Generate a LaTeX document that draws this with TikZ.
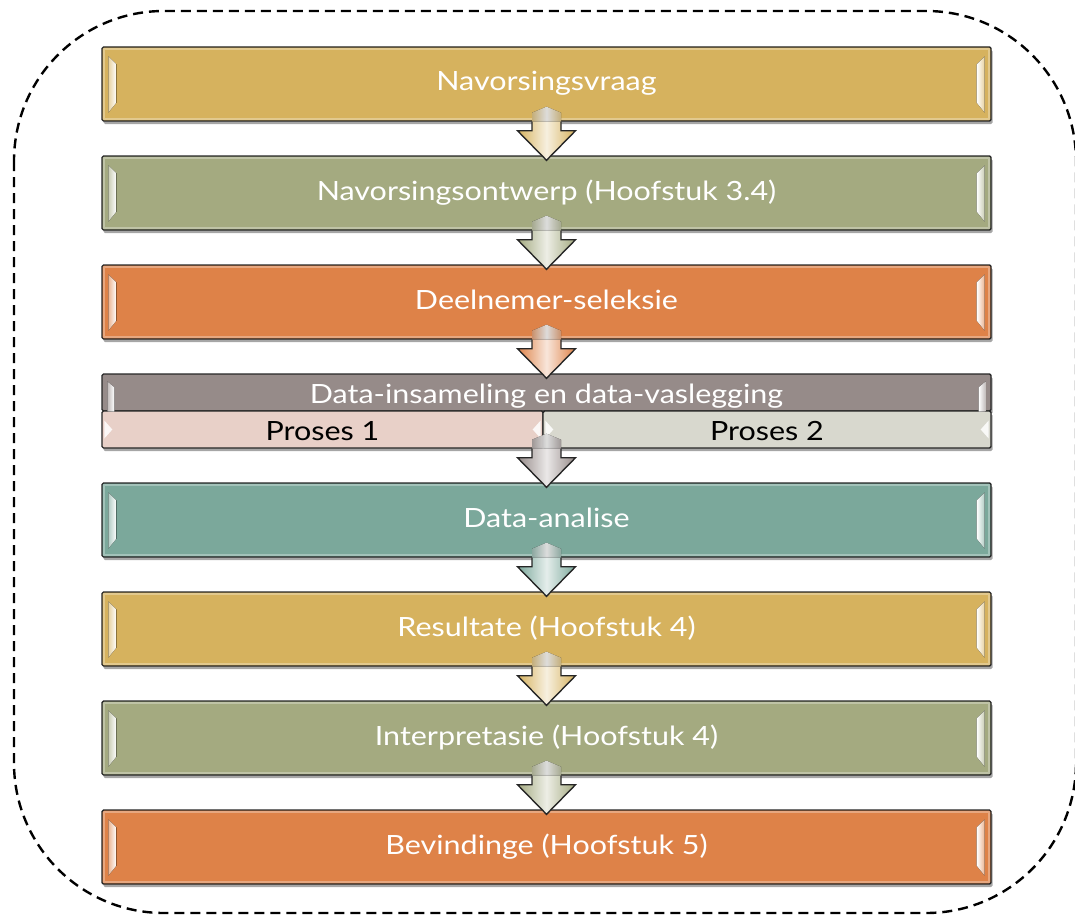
\documentclass[tikz,border=0pt]{standalone}
\usepackage{fontspec}
\setmainfont[FakeStretch=1.15]{Lato}
\usetikzlibrary{calc,shadows,positioning}

\definecolor{goud}{RGB}{214,178,94}
\definecolor{olyf}{RGB}{164,170,128}
\definecolor{oranje}{RGB}{222,130,72}
\definecolor{mauve}{RGB}{150,139,137}
\definecolor{blougroen}{RGB}{123,168,155}
\definecolor{pienk}{RGB}{232,208,200}
\definecolor{liggrys}{RGB}{216,216,206}

\begin{document}
\begin{tikzpicture}[x=1pt,y=-1pt,
    every node/.style={font=\fontsize{26.5}{30}\selectfont},
    stap/.style={draw=black!85, line width=1.4pt, rounded corners=1.5pt,
        minimum width=889pt, minimum height=74pt, inner sep=0pt, text=white, fill=#1,
        text height=14pt, text depth=0pt,
        drop shadow={shadow xshift=1.5pt, shadow yshift=-3pt, opacity=0.35, fill=black}},
    halfstap/.style={stap=#1, minimum height=37pt, text height=22pt, text depth=0pt},
    proses/.style={halfstap=#1, text=black},
    rand/.style={dash pattern=on 10pt off 6pt, line width=2.4pt, rounded corners=150pt},
    pylrand/.style={draw=black!85, line width=1.4pt, line join=miter}
]
        \useasboundingbox (0,0) rectangle (1075,915);
        \draw[rand] (14,11) rectangle (1076,913);

        \node[stap=goud] (vraag) at (546.5,84) {Navorsingsvraag};
        \node[stap=olyf] (ontwerp) at (546.5,193) {Navorsingsontwerp (Hoofstuk 3.4)};
        \node[stap=oranje] (seleksie) at (546.5,302) {Deelnemer-seleksie};
        \node[halfstap=mauve] (insameling) at (546.5,392.5) {Data-insameling en data-vaslegging};
        \node[proses=pienk, minimum width=441pt] (proses1) at (322.5,429.5) {Proses 1};
        \node[proses=liggrys, minimum width=448pt] (proses2) at (767,429.5) {Proses 2};
        \coordinate (prosesonder) at (insameling.center |- proses1.south);
        \node[stap=blougroen] (analise) at (546.5,520) {Data-analise};
        \node[stap=goud] (resultate) at (546.5,629) {Resultate (Hoofstuk 4)};
        \node[stap=olyf] (interpretasie) at (546.5,738) {Interpretasie (Hoofstuk 4)};
        \node[stap=oranje] (bevindinge) at (546.5,847) {Bevindinge (Hoofstuk 5)};

        \foreach \n/\c in {vraag/goud, ontwerp/olyf, seleksie/oranje, analise/blougroen,
                resultate/goud, interpretasie/olyf, bevindinge/oranje} {
            \draw[white, opacity=0.3, line width=1.5pt] ($(\n.north west)+(2.5,2.5)$) rectangle ($(\n.south east)+(-2.5,-2.5)$);
            \fill[left color=\c!60!white, right color=white] ($(\n.north west)+(7,10)$) -- ($(\n.north west)+(15,18)$)
                -- ($(\n.south west)+(15,-19)$) -- ($(\n.south west)+(7,-9)$) -- cycle;
            \fill[right color=\c!60!white, left color=white] ($(\n.north east)+(-7,10)$) -- ($(\n.north east)+(-15,18)$)
                -- ($(\n.south east)+(-15,-19)$) -- ($(\n.south east)+(-7,-9)$) -- cycle;
        }
        \fill[left color=mauve!60!white, right color=white] ($(insameling.north west)+(6,8)$) -- ($(insameling.north west)+(13,14)$)
            -- ($(insameling.south west)+(13,0)$) -- ($(insameling.south west)+(6,0)$) -- cycle;
        \fill[right color=mauve!60!white, left color=white] ($(insameling.north east)+(-6,8)$) -- ($(insameling.north east)+(-13,14)$)
            -- ($(insameling.south east)+(-13,0)$) -- ($(insameling.south east)+(-6,0)$) -- cycle;
        \foreach \n in {proses1, proses2} {
            \fill[white, opacity=0.85] ($(\n.west)+(3,-9)$) -- ($(\n.west)+(11,0)$) -- ($(\n.west)+(3,9)$) -- cycle;
            \fill[white, opacity=0.85] ($(\n.east)+(-3,-9)$) -- ($(\n.east)+(-11,0)$) -- ($(\n.east)+(-3,9)$) -- cycle;
        }

        \foreach \a/\b/\c in {vraag.south/ontwerp.north/goud, ontwerp.south/seleksie.north/olyf,
                seleksie.south/insameling.north/oranje, prosesonder/analise.north/mauve,
                analise.south/resultate.north/blougroen, resultate.south/interpretasie.north/goud,
                interpretasie.south/bevindinge.north/olyf} {
            \fill[left color=\c!70!white, right color=\c!70!white, middle color=white, opacity=0.85]
                ($(\a)+(-14.5,0)$) -- ++(0,-9) -- ($(\a)+(0,-15)$) -- ($(\a)+(14.5,-9)$) -- ++(0,9) -- cycle;
            \draw[pylrand, left color=\c, right color=\c, middle color=\c!20!white]
                ($(\a)+(-14.5,0)$) -- ++(0,9) -- ++(-14.5,0) -- ($(\b)+(0,5)$)
                -- ($(\a)+(29,9)$) -- ++(-14.5,0) -- ++(0,-9);
        }
    \end{tikzpicture}
\end{document}
